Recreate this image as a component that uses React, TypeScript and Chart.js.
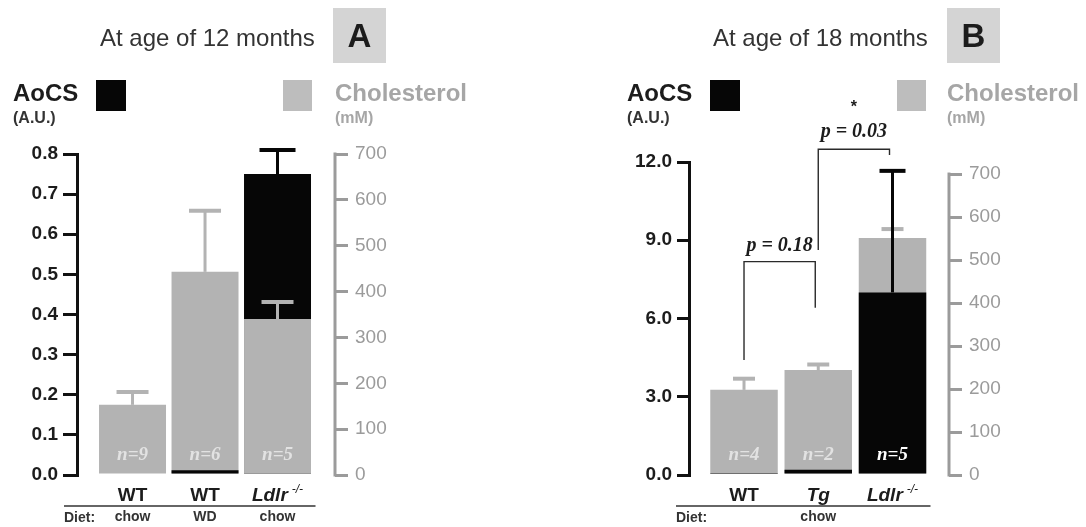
import React, { useEffect, useRef } from 'react';
import { Chart, registerables } from 'chart.js';

Chart.register(...registerables);

const SANS = '"Liberation Sans", Arial, Helvetica, sans-serif';
const SERIF = '"Liberation Serif", "Times New Roman", serif';

// ---------- Panel A : age 12 months ----------
const categoriesA = ['WT', 'WT', 'Ldlr-/-'];
const dietA = ['chow', 'WD', 'chow'];
const nA = [9, 6, 5];
const aocsA = [0.004, 0.012, 0.75];
const aocsErrA: (number | null)[] = [null, null, 0.81];
const cholA = [153, 443, 340];
const cholErrA = [181, 576, 377];

// ---------- Panel B : age 18 months ----------
const categoriesB = ['WT', 'Tg', 'Ldlr-/-'];
const dietB = ['', 'chow', ''];
const nB = [4, 2, 5];
const aocsB = [0.04, 0.2, 7.0];
const aocsErrB: (number | null)[] = [null, null, 11.66];
const cholB = [198, 244, 551];
const cholErrB = [224, 257, 572];
// significance brackets (values on the AoCS axis)
const bracketsB = [
  { from: 0, to: 1, top: 8.18, leftEnd: 4.41, rightEnd: 6.41, label: 'p = 0.18', labelY: 8.6, star: false },
  { from: 1, to: 2, top: 12.49, leftEnd: 8.63, rightEnd: 12.27, label: 'p = 0.03', labelY: 12.97, star: true },
];

const BLACK = '#060606';
const GRAY_BAR = '#b3b3b3';
const GRAY_LEGEND = '#bdbdbd';
const GRAY_AXIS = '#9b9b9b';
const GRAY_TEXT = '#a6a6a6';
const BOX = '#d4d4d4';
const INK = '#1c1c1c';

const W = 543;
const H = 527;

type Panel = {
  title: string;
  letter: string;
  categories: string[];
  diet: string[];
  n: number[];
  aocs: number[];
  aocsErr: (number | null)[];
  chol: number[];
  cholErr: number[];
  aocsMax: number;
  aocsStep: number;
  cholAxisMax: number;
  cholTop: number;
  area: { left: number; right: number; top: number; bottom: number };
  xMin: number;
  xMax: number;
  barPct: number;
  cap: number;
  leftTick: number;
  titleX: number;
  boxX: number;
  aocsX: number;
  blackSqX: number;
  graySqX: number;
  cholX: number;
  brackets: typeof bracketsB;
};

const panelA: Panel = {
  title: 'At age of 12 months',
  letter: 'A',
  categories: categoriesA,
  diet: dietA,
  n: nA,
  aocs: aocsA,
  aocsErr: aocsErrA,
  chol: cholA,
  cholErr: cholErrA,
  aocsMax: 0.8,
  aocsStep: 0.1,
  cholAxisMax: 700,
  cholTop: 700,
  area: { left: 77, right: 335, top: 154, bottom: 475 },
  xMin: -0.766,
  xMax: 2.793,
  barPct: 0.924,
  cap: 32,
  leftTick: 14,
  titleX: 100,
  boxX: 333,
  aocsX: 13,
  blackSqX: 96,
  graySqX: 283,
  cholX: 335,
  brackets: [],
};

const panelB: Panel = {
  title: 'At age of 18 months',
  letter: 'B',
  categories: categoriesB,
  diet: dietB,
  n: nB,
  aocs: aocsB,
  aocsErr: aocsErrB,
  chol: cholB,
  cholErr: cholErrB,
  aocsMax: 12,
  aocsStep: 3,
  cholAxisMax: 728,
  cholTop: 700,
  area: { left: 146, right: 406, top: 162, bottom: 475 },
  xMin: -0.741,
  xMax: 2.761,
  barPct: 0.909,
  cap: 22,
  leftTick: 12,
  titleX: 170,
  boxX: 404,
  aocsX: 84,
  blackSqX: 167,
  graySqX: 354,
  cholX: 404,
  brackets: bracketsB,
};

function text(
  ctx: CanvasRenderingContext2D,
  s: string,
  x: number,
  y: number,
  font: string,
  color: string,
  align: CanvasTextAlign = 'left',
  baseline: CanvasTextBaseline = 'alphabetic'
) {
  ctx.font = font;
  ctx.fillStyle = color;
  ctx.textAlign = align;
  ctx.textBaseline = baseline;
  ctx.fillText(s, x, y);
}

function drawGenotype(ctx: CanvasRenderingContext2D, label: string, cx: number, baseline: number) {
  if (label.endsWith('-/-')) {
    const main = label.slice(0, -3);
    const f1 = `italic bold 19px ${SANS}`;
    const f2 = `italic 12px ${SANS}`;
    ctx.font = f1;
    const w1 = ctx.measureText(main).width;
    ctx.font = f2;
    const w2 = ctx.measureText('-/-').width;
    const gap = 4;
    const x0 = cx - (w1 + gap + w2) / 2;
    text(ctx, main, x0, baseline, f1, INK);
    text(ctx, '-/-', x0 + w1 + gap, baseline - 8, f2, INK);
  } else {
    const italic = label !== 'WT';
    text(ctx, label, cx, baseline, `${italic ? 'italic ' : ''}bold 19px ${SANS}`, INK, 'center');
  }
}

function errBar(ctx: CanvasRenderingContext2D, x: number, y0: number, y1: number, cap: number, color: string) {
  ctx.save();
  ctx.strokeStyle = color;
  ctx.lineCap = 'butt';
  ctx.lineWidth = 3;
  ctx.beginPath();
  ctx.moveTo(x, y0);
  ctx.lineTo(x, y1);
  ctx.stroke();
  ctx.lineWidth = 4;
  ctx.beginPath();
  ctx.moveTo(x - cap / 2, y1);
  ctx.lineTo(x + cap / 2, y1);
  ctx.stroke();
  ctx.restore();
}

function makeDecorPlugin(p: Panel) {
  return {
    id: 'decor',
    afterDatasetsDraw(chart: any) {
      const ctx: CanvasRenderingContext2D = chart.ctx;
      const xs = chart.scales.x;
      const y = chart.scales.y;
      const y1 = chart.scales.y1;
      const ca = chart.chartArea;

      // right (cholesterol) axis line, only up to its top tick
      ctx.save();
      ctx.fillStyle = GRAY_AXIS;
      const yTop = y1.getPixelForValue(p.cholTop);
      const yBot = y1.getPixelForValue(0);
      ctx.fillRect(ca.right - 1.5, yTop - 1.5, 3, yBot - yTop + 3);
      ctx.restore();

      // error bars: cholesterol first (gray), then AoCS (black)
      p.chol.forEach((v, i) => {
        const x = xs.getPixelForValue(i);
        errBar(ctx, x, y1.getPixelForValue(v), y1.getPixelForValue(p.cholErr[i]), p.cap, GRAY_BAR);
      });
      p.aocs.forEach((v, i) => {
        const e = p.aocsErr[i];
        if (e == null) return;
        const x = xs.getPixelForValue(i);
        errBar(ctx, x, y.getPixelForValue(v), y.getPixelForValue(e), p.cap + 4, BLACK);
      });

      // n labels
      p.n.forEach((n, i) => {
        const x = xs.getPixelForValue(i);
        const by = ca.bottom - 15;
        const onBlack = y.getPixelForValue(p.aocs[i]) < by - 14 && p.aocs[i] / p.aocsMax < p.chol[i] / p.cholAxisMax;
        text(ctx, `n=${n}`, x, by, `italic bold 19px ${SERIF}`, onBlack ? '#ffffff' : '#e2e2e2', 'center');
      });

      // category labels
      p.categories.forEach((c, i) => {
        drawGenotype(ctx, c, xs.getPixelForValue(i), ca.bottom + 26);
      });
      // underline
      const lastRight = xs.getPixelForValue(p.categories.length - 1) + 38;
      ctx.save();
      ctx.strokeStyle = '#333';
      ctx.lineWidth = 1.3;
      ctx.beginPath();
      ctx.moveTo(ca.left - 13, ca.bottom + 31);
      ctx.lineTo(lastRight, ca.bottom + 31);
      ctx.stroke();
      ctx.restore();
      text(ctx, 'Diet:', ca.left - 13, ca.bottom + 47, `bold 14px ${SANS}`, '#333');
      p.diet.forEach((d, i) => {
        if (!d) return;
        text(ctx, d, xs.getPixelForValue(i), ca.bottom + 46, `bold 14px ${SANS}`, '#333', 'center');
      });

      // significance brackets
      p.brackets.forEach((b) => {
        const xl = xs.getPixelForValue(b.from);
        const xr = xs.getPixelForValue(b.to) - 3;
        const yt = y.getPixelForValue(b.top);
        ctx.save();
        ctx.strokeStyle = '#2a2a2a';
        ctx.lineWidth = 1.4;
        ctx.beginPath();
        ctx.moveTo(xl, y.getPixelForValue(b.leftEnd));
        ctx.lineTo(xl, yt);
        ctx.lineTo(xr, yt);
        ctx.lineTo(xr, y.getPixelForValue(b.rightEnd));
        ctx.stroke();
        ctx.restore();
        const cx = (xl + xr) / 2;
        const ly = y.getPixelForValue(b.labelY);
        text(ctx, b.label, cx, ly, `italic bold 20px ${SERIF}`, INK, 'center');
        if (b.star) text(ctx, '*', cx, ly - 25, `bold 16px ${SANS}`, INK, 'center');
      });

      // header
      text(ctx, p.title, p.titleX, 46, `24px ${SANS}`, '#333');
      ctx.fillStyle = BOX;
      ctx.fillRect(p.boxX, 8, 53, 55);
      text(ctx, p.letter, p.boxX + 26.5, 47, `bold 33px ${SANS}`, INK, 'center');

      // legend
      text(ctx, 'AoCS', p.aocsX, 101, `bold 24px ${SANS}`, INK);
      text(ctx, '(A.U.)', p.aocsX, 123, `bold 16px ${SANS}`, '#333');
      ctx.fillStyle = BLACK;
      ctx.fillRect(p.blackSqX, 80, 30, 31);
      ctx.fillStyle = GRAY_LEGEND;
      ctx.fillRect(p.graySqX, 80, 29, 31);
      text(ctx, 'Cholesterol', p.cholX, 101, `bold 24px ${SANS}`, GRAY_TEXT);
      text(ctx, '(mM)', p.cholX, 123, `bold 16px ${SANS}`, GRAY_TEXT);
    },
  };
}

function PanelChart({ p, left }: { p: Panel; left: number }) {
  const ref = useRef<HTMLCanvasElement | null>(null);
  useEffect(() => {
    if (!ref.current) return;
    const idx = p.categories.map((_, i) => i);
    const isFront = idx.map((i) => p.aocs[i] / p.aocsMax < p.chol[i] / p.cholAxisMax);
    const chart = new Chart(ref.current, {
      type: 'bar',
      data: {
        datasets: [
          {
            label: 'AoCS (front)',
            data: idx.map((i) => ({ x: i, y: isFront[i] ? p.aocs[i] : null })),
            yAxisID: 'y',
            backgroundColor: BLACK,
          },
          {
            label: 'Cholesterol',
            data: idx.map((i) => ({ x: i, y: p.chol[i] })),
            yAxisID: 'y1',
            backgroundColor: GRAY_BAR,
          },
          {
            label: 'AoCS (back)',
            data: idx.map((i) => ({ x: i, y: isFront[i] ? null : p.aocs[i] })),
            yAxisID: 'y',
            backgroundColor: BLACK,
          },
        ] as any,
      },
      options: {
        animation: false,
        responsive: false,
        devicePixelRatio: 1,
        layout: {
          padding: { left: 0, right: 0, top: p.area.top, bottom: H - p.area.bottom },
        },
        datasets: {
          bar: {
            grouped: false,
            categoryPercentage: 1,
            barPercentage: p.barPct,
            borderWidth: 0,
          },
        } as any,
        plugins: {
          legend: { display: false },
          tooltip: { enabled: false },
          title: { display: false },
        },
        scales: {
          x: {
            type: 'linear',
            display: false,
            min: p.xMin,
            max: p.xMax,
            offset: false,
            ticks: { stepSize: 1, includeBounds: false } as any,
          },
          y: {
            position: 'left',
            min: 0,
            max: p.aocsMax,
            afterFit: (s: any) => {
              s.width = p.area.left;
            },
            ticks: {
              stepSize: p.aocsStep,
              callback: (v: any) => Number(v).toFixed(1),
              font: { family: SANS, size: 19, weight: 'bold' },
              color: INK,
              padding: 5,
            },
            grid: {
              drawOnChartArea: false,
              drawTicks: true,
              tickLength: p.leftTick,
              tickWidth: 3,
              tickColor: '#111',
              lineWidth: 3,
              color: '#111',
            } as any,
            border: { display: true, color: '#111', width: 3 },
          },
          y1: {
            position: 'right',
            min: 0,
            max: p.cholAxisMax,
            afterBuildTicks: (s: any) => {
              s.ticks = s.ticks.filter((t: any) => t.value <= p.cholTop);
            },
            afterFit: (s: any) => {
              s.width = W - p.area.right;
            },
            ticks: {
              stepSize: 100,
              includeBounds: false,
              font: { family: SANS, size: 19 },
              color: GRAY_AXIS,
              padding: 7,
            } as any,
            grid: {
              drawOnChartArea: false,
              drawTicks: true,
              tickLength: 13,
              tickWidth: 3,
              tickColor: GRAY_AXIS,
              lineWidth: 3,
              color: GRAY_AXIS,
            } as any,
            border: { display: false },
          },
        },
      } as any,
      plugins: [makeDecorPlugin(p)],
    });
    return () => chart.destroy();
  }, [p]);
  return (
    <canvas
      ref={ref}
      width={W}
      height={H}
      style={{ position: 'absolute', left, top: 0, width: W, height: H }}
    />
  );
}

export default function App() {
  return (
    <div
      style={{
        position: 'fixed',
        left: 0,
        top: 0,
        width: 1086,
        height: 527,
        background: '#ffffff',
        overflow: 'hidden',
      }}
    >
      <PanelChart p={panelA} left={0} />
      <PanelChart p={panelB} left={543} />
    </div>
  );
}
